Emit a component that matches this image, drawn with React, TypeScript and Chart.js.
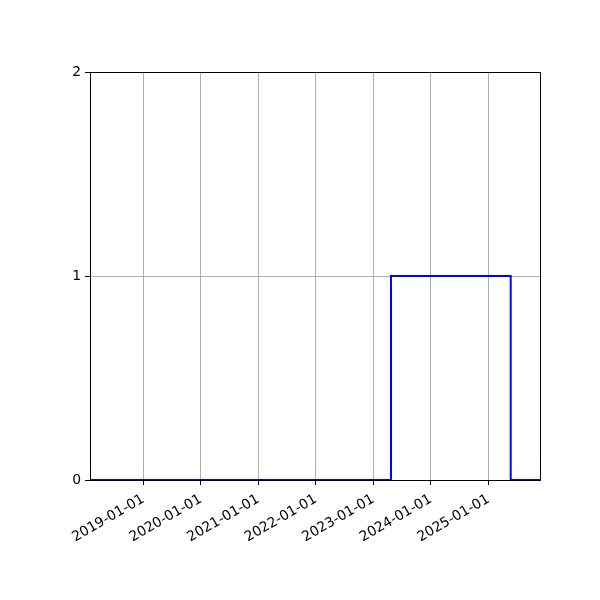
import React, { useEffect, useRef } from "react";
import { Chart, registerables } from "chart.js";

Chart.register(...registerables);

// Data
const STEP_DATES = ["2018-01-28", "2023-04-23", "2025-05-22", "2025-11-24"];
const STEP_VALUES = [0, 1, 0, 0];
const X_MIN_DATE = "2018-01-28";
const X_MAX_DATE = "2025-11-24";
const X_TICK_LABELS = [
  "2019-01-01",
  "2020-01-01",
  "2021-01-01",
  "2022-01-01",
  "2023-01-01",
  "2024-01-01",
  "2025-01-01",
];
const Y_TICKS = [0, 1, 2];

const toMs = (s: string) => {
  const [y, m, d] = s.split("-").map(Number);
  return Date.UTC(y, m - 1, d);
};

const frame = {
  id: "frame",
  afterDraw(chart: any) {
    const { ctx, chartArea } = chart;
    ctx.save();
    ctx.strokeStyle = "#000";
    ctx.lineWidth = 1;
    ctx.strokeRect(
      Math.round(chartArea.left) + 0.5,
      Math.round(chartArea.top) + 0.5,
      Math.round(chartArea.right - chartArea.left),
      Math.round(chartArea.bottom - chartArea.top)
    );
    ctx.restore();
  },
};

export default function App() {
  const ref = useRef<HTMLCanvasElement | null>(null);
  useEffect(() => {
    document.body.style.margin = "0";
    const canvas = ref.current!;
    const chart = new Chart(canvas, {
      type: "line",
      data: {
        datasets: [
          {
            data: STEP_DATES.map((d, i) => ({ x: toMs(d), y: STEP_VALUES[i] })),
            borderColor: "#0000ff",
            borderWidth: 2,
            pointRadius: 0,
            stepped: "before",
            fill: false,
          },
        ],
      },
      options: {
        animation: false,
        responsive: false,
        maintainAspectRatio: false,
        layout: { padding: { left: 0, top: 72, right: 60, bottom: 0 } },
        plugins: { legend: { display: false }, tooltip: { enabled: false } },
        scales: {
          x: {
            type: "linear",
            min: toMs(X_MIN_DATE),
            max: toMs(X_MAX_DATE),
            afterBuildTicks: (s: any) => {
              s.ticks = X_TICK_LABELS.map((l) => ({ value: toMs(l), label: l }));
            },
            afterFit: (s: any) => {
              s.height = 120;
            },
            grid: {
              color: "#b0b0b0",
              lineWidth: 1,
              tickColor: "#000",
              tickLength: 5,
              drawTicks: true,
            },
            border: { display: true, color: "#000", width: 1 },
            ticks: {
              autoSkip: false,
              minRotation: 30,
              maxRotation: 30,
              padding: 6,
              color: "#000",
              font: { family: "DejaVu Sans", size: 13.9 },
              callback: (v: any) => {
                const d = new Date(Number(v));
                const y = d.getUTCFullYear();
                const m = String(d.getUTCMonth() + 1).padStart(2, "0");
                const dd = String(d.getUTCDate()).padStart(2, "0");
                return `${y}-${m}-${dd}`;
              },
            },
          },
          y: {
            min: 0,
            max: 2,
            afterBuildTicks: (s: any) => {
              s.ticks = Y_TICKS.map((v) => ({ value: v }));
            },
            afterFit: (s: any) => {
              s.width = 90;
            },
            grid: {
              color: "#b0b0b0",
              lineWidth: 1,
              tickColor: "#000",
              tickLength: 5,
            },
            border: { display: true, color: "#000", width: 1 },
            ticks: {
              padding: 4,
              color: "#000",
              font: { family: "DejaVu Sans", size: 13.9 },
              callback: (v: any) => String(v),
            },
          },
        },
      },
      plugins: [frame],
    });
    return () => chart.destroy();
  }, []);
  return (
    <div style={{ width: 600, height: 600 }}>
      <canvas ref={ref} width={600} height={600} style={{ width: 600, height: 600 }} />
    </div>
  );
}
